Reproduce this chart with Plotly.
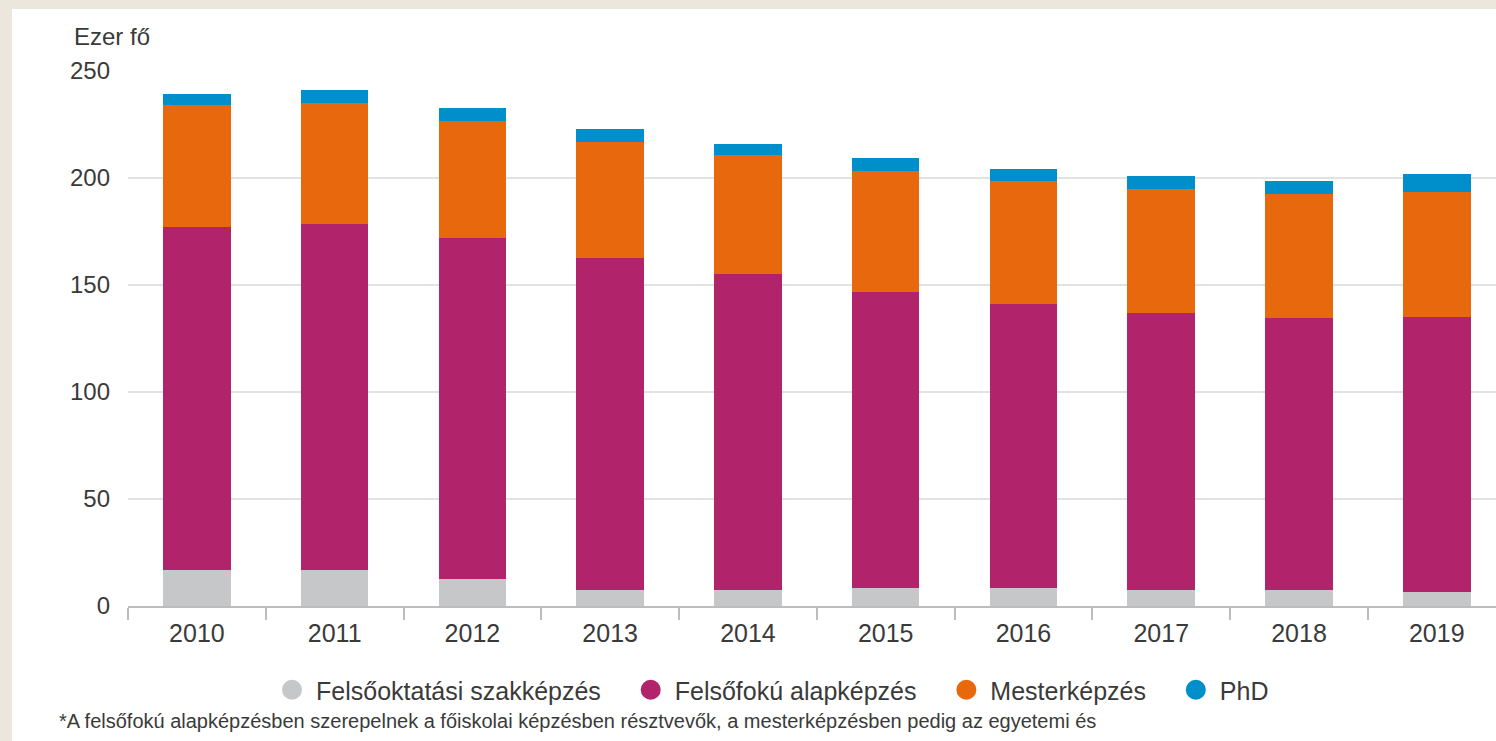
import plotly.graph_objects as go

years = ["2010", "2011", "2012", "2013", "2014", "2015", "2016", "2017", "2018", "2019"]
szakkepzes = [16.7, 16.7, 12.5, 7.5, 7.5, 8.2, 8.2, 7.5, 7.5, 6.7]
alapkepzes = [160.3, 161.8, 159.3, 155.1, 147.8, 138.7, 132.9, 129.6, 127.1, 128.5]
mesterkepzes = [57.1, 56.4, 54.8, 54.1, 55.4, 56.5, 57.4, 57.9, 58.1, 58.3]
phd = [5.0, 6.1, 6.0, 6.1, 5.3, 5.8, 5.7, 6.1, 5.9, 8.4]

series_names = ["Felsőoktatási szakképzés", "Felsőfokú alapképzés", "Mesterképzés", "PhD"]
series_values = [szakkepzes, alapkepzes, mesterkepzes, phd]
colors = ["#c6c7c8", "#b1236a", "#e8690d", "#008fca"]

y_ticks = [0, 50, 100, 150, 200, 250]
y_unit = "Ezer fő"
footnote = "*A felsőfokú alapképzésben szerepelnek a főiskolai képzésben résztvevők, a mesterképzésben pedig az egyetemi és"

TEXT = "#3a3a3a"
FONT = "Liberation Sans, Arial, sans-serif"
BEIGE = "#ebe7dd"
PAD = "\u00a0\u00a0\u00a0"

fig = go.Figure()
for name, vals, col in zip(series_names, series_values, colors):
    fig.add_trace(go.Bar(x=years, y=vals, name=name, marker=dict(color=col, line=dict(width=0)),
                         showlegend=False))
# legend entries with round symbols
for i, (name, col) in enumerate(zip(series_names, colors)):
    label = name + (PAD if i < len(series_names) - 1 else "")
    fig.add_trace(go.Scatter(x=[None], y=[None], mode="markers", name=label,
                             marker=dict(symbol="circle", size=16, color=col,
                                         line=dict(color=col, width=4))))

W, H = 1496, 741
L, R, T, B = 128, 0, 71, 135
pw, ph = W - L - R, H - T - B

def px(x):
    return (x - L) / pw

def py(y):
    return (H - B - y) / ph

fig.update_layout(
    width=W, height=H,
    margin=dict(l=L, r=R, t=T, b=B, pad=0),
    barmode="stack",
    bargap=0.51,
    paper_bgcolor=BEIGE,
    plot_bgcolor="white",
    font=dict(family=FONT, color=TEXT, size=24),
    xaxis=dict(
        type="category",
        range=[-0.5, 9.43],
        showline=True, linecolor="#bdbdbd", linewidth=2,
        ticks="outside", tickson="boundaries", ticklen=12, tickwidth=2, tickcolor="#bdbdbd",
        tickfont=dict(size=25, color=TEXT), ticklabelstandoff=4,
        showgrid=False, zeroline=False, fixedrange=True,
    ),
    yaxis=dict(
        range=[0, 250], tickvals=y_ticks,
        showgrid=True, gridcolor="#e2e2e2", gridwidth=2,
        zeroline=False, showline=False,
        ticks="", ticklabelstandoff=17,
        tickfont=dict(size=24, color=TEXT), fixedrange=True,
    ),
    legend=dict(
        orientation="h", xanchor="left", yanchor="middle",
        x=px(268), y=py(690), traceorder="normal",
        itemwidth=38,
        font=dict(size=25, color=TEXT),
        bgcolor="rgba(0,0,0,0)",
        itemclick=False, itemdoubleclick=False,
    ),
    shapes=[dict(type="rect", xref="paper", yref="paper", layer="below",
                 x0=px(12), x1=px(W + 20), y0=py(H + 20), y1=py(9),
                 fillcolor="white", line=dict(width=0))],
    annotations=[
        dict(text=y_unit, xref="paper", yref="paper", x=px(72), y=py(37),
             xanchor="left", yanchor="middle", showarrow=False,
             font=dict(size=24, color=TEXT)),
        dict(text=footnote, xref="paper", yref="paper", x=px(57), y=py(721),
             xanchor="left", yanchor="middle", showarrow=False,
             font=dict(size=20, color=TEXT)),
    ],
)

fig.write_html(
    "out.html",
    config={"displayModeBar": False},
    post_script="document.body.style.margin='0';document.body.style.padding='0';"
                "document.body.style.background='white';",
)
